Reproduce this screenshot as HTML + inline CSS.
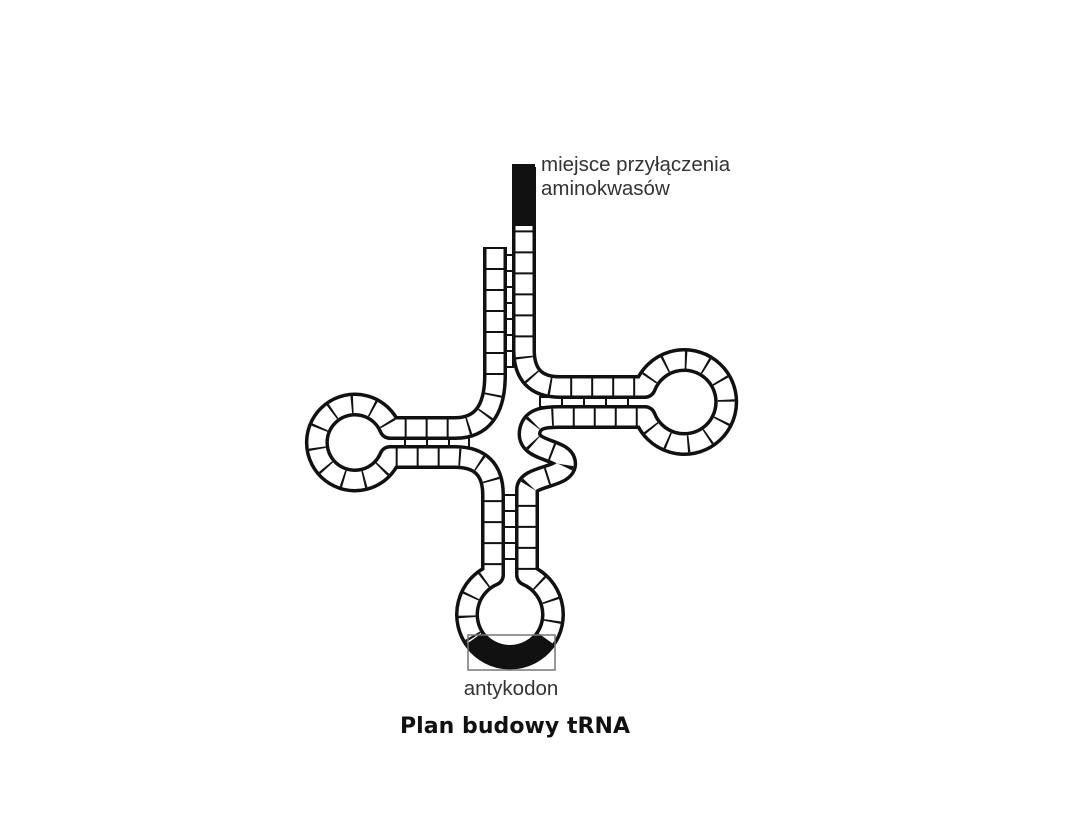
<!DOCTYPE html>
<html><head><meta charset="utf-8"><style>
body{margin:0;background:#fff;width:1080px;height:810px;overflow:hidden}
</style></head><body>
<svg width="1080" height="810" xmlns="http://www.w3.org/2000/svg">
<defs>
<path id="s" d="M495,247 L495,375 Q495,428 455,428 L390,428 A38,38 0 1 0 390,457 L455,457 Q493,457 493,495 L493,575 A43,43 0 1 0 527,575 L527,490 C527,475 568,478 565,462 C562,448 525,452 530,430 C533,418 545,417 560,417 L645,417 A42,42 0 1 0 645,387 L560,387 Q524,387 524,350 L524,167" fill="none"/>
</defs>
<g fill="#fff" stroke="#111" stroke-width="2">
<rect x="505" y="255" width="8" height="16"/><rect x="505" y="271" width="8" height="16"/><rect x="505" y="287" width="8" height="16"/><rect x="505" y="303" width="8" height="16"/><rect x="505" y="319" width="8" height="16"/><rect x="505" y="335" width="8" height="16"/><rect x="505" y="351" width="8" height="16"/>
<rect x="405" y="437" width="22" height="10"/><rect x="427" y="437" width="22" height="10"/><rect x="449" y="437" width="20" height="10"/>
<rect x="540" y="397" width="22" height="10"/><rect x="562" y="397" width="22" height="10"/><rect x="584" y="397" width="22" height="10"/><rect x="606" y="397" width="22" height="10"/>
<rect x="503" y="495" width="15" height="16"/><rect x="503" y="511" width="15" height="16"/><rect x="503" y="527" width="15" height="16"/><rect x="503" y="543" width="15" height="16"/>
</g>
<use href="#s" stroke="#111" stroke-width="24" stroke-linejoin="round"/>
<use href="#s" stroke="#fff" stroke-width="17" stroke-linejoin="round"/>
<use href="#s" stroke="#111" stroke-width="17" stroke-dasharray="2 19"/>
<path d="M475,638 A43,43 0 0 0 545,638" fill="none" stroke="#111" stroke-width="22"/>
<rect x="512" y="164" width="23" height="62" fill="#111"/>
<rect x="468" y="635" width="87" height="35" fill="none" stroke="#777" stroke-width="1.5"/>
<g font-family="Liberation Sans, sans-serif" fill="#333" font-size="20.5">
<text x="541" y="171">miejsce przyłączenia</text>
<text x="541" y="195">aminokwasów</text>
<text x="511" y="695" text-anchor="middle">antykodon</text>
</g>
<text x="515" y="733" text-anchor="middle" font-family="DejaVu Sans, sans-serif" font-weight="bold" font-size="22" fill="#111" textLength="230">Plan budowy tRNA</text>
</svg>
</body></html>
